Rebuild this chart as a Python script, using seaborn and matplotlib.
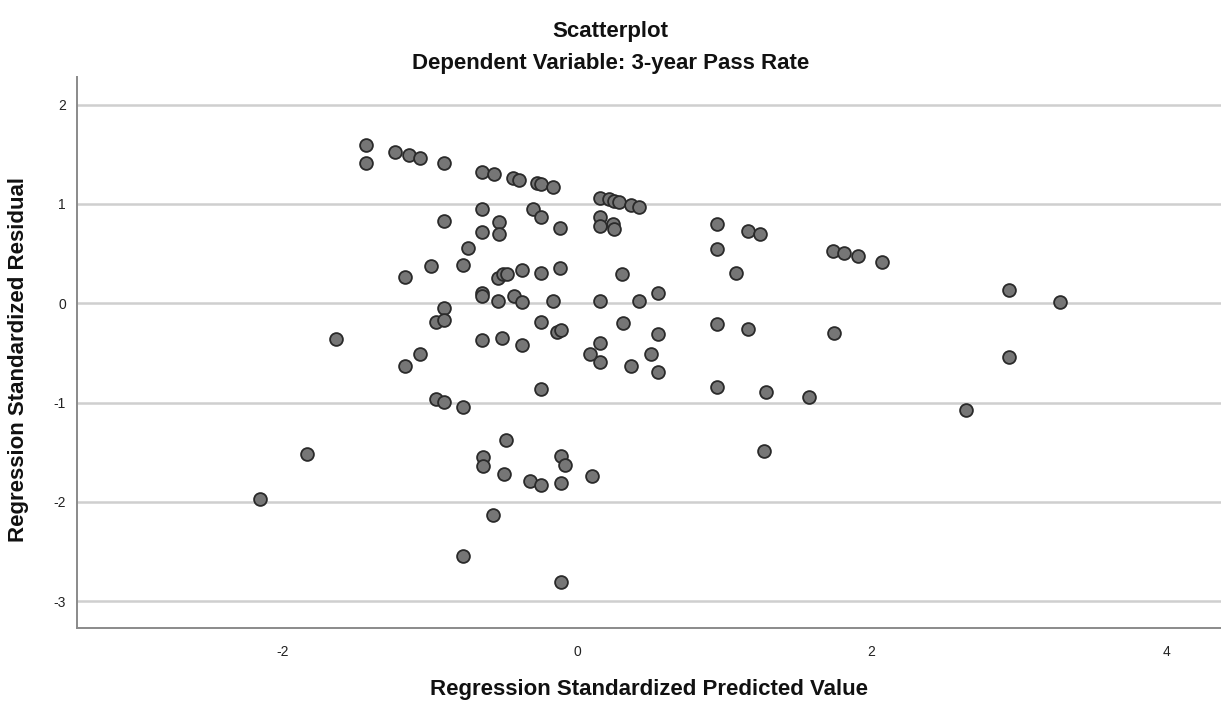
import numpy as np
import pandas as pd
import matplotlib
matplotlib.use("Agg")
import matplotlib.pyplot as plt
import seaborn as sns

# Standardized predicted values (x) and standardized residuals (y)
predicted = [
    -1.434, -1.434, -1.238, -1.138, -1.066, -0.905, -0.643, -0.563, -0.432, -0.392,
    -0.274, -0.244, -0.163, 0.156, 0.215, 0.251, 0.287, 0.367, 0.421,
    0.948, 1.163, 1.242, 0.948, 1.081, 1.740, 1.815, 1.910, 2.073, 2.935,
    3.279, 0.948, 1.163, 1.743, 2.935, 0.948, 1.281, 1.577, 2.641, 1.267,
    0.552, 0.552, 0.552, 0.500, 0.367, 0.310, 0.421, 0.303, 0.156, 0.154,
    0.154, 0.086, 0.156, 0.156, 0.246, 0.253, 0.104,
    -0.297, -0.244, -0.113, -0.113, -0.244, -0.163, -0.244, -0.138, -0.111, -0.244,
    -0.319, -0.242, -0.111, -0.084, -0.111, -0.111,
    -0.643, -0.532, -0.643, -0.532, -0.534, -0.500, -0.477, -0.375, -0.643, -0.643,
    -0.534, -0.430, -0.375, -0.643, -0.509, -0.375, -0.484, -0.638, -0.638, -0.494,
    -0.572,
    -0.905, -0.742, -0.772, -0.989, -1.170, -0.905, -0.959, -0.901, -1.066, -1.170,
    -0.955, -0.905, -0.772, -0.772,
    -1.634, -1.833, -2.150,
]
residual = [
    1.590, 1.412, 1.523, 1.495, 1.465, 1.415, 1.324, 1.301, 1.258, 1.241,
    1.207, 1.197, 1.167, 1.062, 1.046, 1.029, 1.019, 0.989, 0.972,
    0.798, 0.724, 0.697, 0.546, 0.301, 0.529, 0.506, 0.472, 0.418, 0.133,
    0.015, -0.212, -0.263, -0.297, -0.539, -0.844, -0.897, -0.948, -1.076, -1.485,
    0.100, -0.313, -0.693, -0.509, -0.629, -0.202, 0.022, 0.297, 0.019, -0.401,
    -0.595, -0.515, 0.865, 0.780, 0.798, 0.750, -1.740,
    0.946, 0.865, 0.754, 0.358, 0.301, 0.019, -0.192, -0.290, -0.270, -0.861,
    -1.794, -1.834, -1.539, -1.626, -1.814, -2.805,
    0.946, 0.818, 0.720, 0.697, 0.254, 0.294, 0.294, 0.334, 0.106, 0.073,
    0.025, 0.076, 0.009, -0.374, -0.347, -0.418, -1.378, -1.546, -1.639, -1.717,
    -2.136,
    0.825, 0.553, 0.385, 0.375, 0.261, -0.045, -0.189, -0.169, -0.509, -0.632,
    -0.968, -0.995, -1.048, -2.543,
    -0.361, -1.519, -1.969,
]

x_ticks = [-2, 0, 2, 4]
y_ticks = [-3, -2, -1, 0, 1, 2]

df = pd.DataFrame({"pred": predicted, "resid": residual})

sns.set_theme(style="white")
plt.rcParams["font.family"] = ["Liberation Sans", "DejaVu Sans"]

fig = plt.figure(figsize=(12.21, 7.07), dpi=100)
ax = fig.add_axes([0.0631, 0.1117, 0.9369, 0.7793])

for yt in y_ticks:
    ax.axhline(yt, color="#cfcfcf", linewidth=1.8, zorder=0)

sns.scatterplot(data=df, x="pred", y="resid", ax=ax, s=85,
                color="#767676", edgecolor="#2a2a2a", linewidth=1.3, zorder=3)

ax.set_xlim(-3.394, 4.372)
ax.set_ylim(-3.271, 2.278)
ax.set_xticks(x_ticks)
ax.set_yticks(y_ticks)
ax.set_xticklabels([str(t) for t in x_ticks])
ax.set_yticklabels([str(t) for t in y_ticks])
ax.tick_params(axis="both", length=0, labelsize=10, colors="#222222")
ax.tick_params(axis="x", pad=12)
ax.tick_params(axis="y", pad=8)
ax.set_xlabel("")
ax.set_ylabel("")

for side in ["top", "right"]:
    ax.spines[side].set_visible(False)
for side in ["left", "bottom"]:
    ax.spines[side].set_color("#8a8a8a")
    ax.spines[side].set_linewidth(1.4)

fig.text(0.5, 1 - 31 / 707, "Scatterplot", ha="center", va="center",
         fontsize=16, fontweight="bold", color="#111111")
fig.text(0.5, 1 - 63 / 707, "Dependent Variable: 3-year Pass Rate", ha="center",
         va="center", fontsize=16, fontweight="bold", color="#111111")
fig.text(649 / 1221, 1 - 690 / 707, "Regression Standardized Predicted Value",
         ha="center", va="center", fontsize=16, fontweight="bold", color="#111111")
fig.text(19 / 1221, 1 - 360 / 707, "Regression Standardized Residual",
         ha="center", va="center", rotation=90, fontsize=16, fontweight="bold",
         color="#111111")

fig.savefig("out.png", dpi=100, facecolor="white")
